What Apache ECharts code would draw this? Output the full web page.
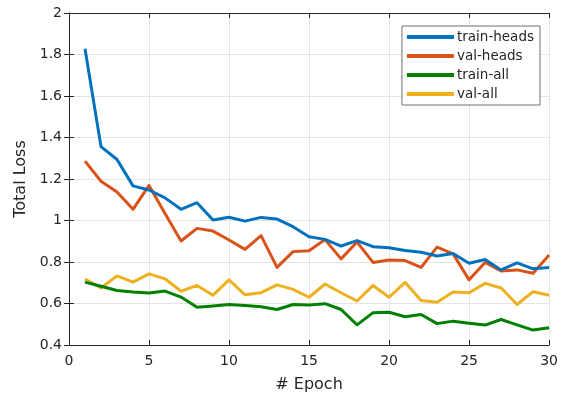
<!DOCTYPE html>
<html>
<head>
<meta charset="utf-8">
<script src="https://cdn.jsdelivr.net/npm/echarts@6/dist/echarts.min.js"></script>
<style>
  html, body { margin: 0; padding: 0; background: #fff; }
  #chart { width: 561px; height: 398px; }
</style>
</head>
<body>
<div id="chart"></div>
<script>
// Training curves: loss per epoch for the head-only and full-network runs
const epochs = [1,2,3,4,5,6,7,8,9,10,11,12,13,14,15,16,17,18,19,20,21,22,23,24,25,26,27,28,29,30];
const trainHeads = [1.828,1.356,1.294,1.167,1.147,1.109,1.054,1.086,1.002,1.016,0.997,1.015,1.007,0.970,0.922,0.909,0.877,0.903,0.874,0.869,0.855,0.847,0.829,0.841,0.794,0.812,0.762,0.796,0.767,0.774];
const valHeads   = [1.286,1.189,1.137,1.054,1.169,1.034,0.901,0.962,0.949,0.906,0.861,0.927,0.774,0.850,0.854,0.908,0.815,0.896,0.798,0.810,0.807,0.774,0.872,0.839,0.714,0.798,0.757,0.762,0.746,0.834];
const trainAll   = [0.703,0.683,0.663,0.655,0.651,0.660,0.631,0.582,0.588,0.595,0.590,0.584,0.571,0.595,0.593,0.599,0.571,0.497,0.556,0.558,0.536,0.547,0.503,0.515,0.505,0.496,0.523,0.497,0.472,0.483];
const valAll     = [0.718,0.675,0.733,0.703,0.743,0.719,0.659,0.687,0.640,0.714,0.642,0.652,0.690,0.668,0.630,0.694,0.652,0.612,0.687,0.630,0.702,0.614,0.606,0.655,0.652,0.697,0.675,0.595,0.657,0.640];

const seriesNames = ['train-heads', 'val-heads', 'train-all', 'val-all'];
const seriesData = [trainHeads, valHeads, trainAll, valAll];
const colors = ['#0072BD', '#D95319', '#008000', '#EDB120'];

const FONT = 'DejaVu Sans';
const INK = '#262626';

const pairs = arr => arr.map((v, i) => [epochs[i], v]);

const axisLine = { show: true, lineStyle: { color: INK, width: 1 } };
const tick = { show: true, inside: true, length: 5, lineStyle: { color: INK } };
const grid = { show: true, lineStyle: { color: '#e3e3e3', width: 1 } };

const chart = echarts.init(document.getElementById('chart'), null, { renderer: 'canvas' });
chart.setOption({
  animation: false,
  backgroundColor: '#fff',
  textStyle: { fontFamily: FONT },
  grid: { left: 69, right: 9, top: 13, bottom: 50, containLabel: false },
  legend: {
    data: seriesNames,
    orient: 'vertical',
    right: 21,
    top: 26,
    itemWidth: 47,
    itemHeight: 4,
    itemGap: 5,
    icon: 'rect',
    backgroundColor: '#fff',
    borderColor: '#6e6e6e',
    borderWidth: 1,
    borderRadius: 0,
    padding: [4, 6, 4, 5],
    textStyle: { fontFamily: FONT, fontSize: 13.5, color: INK, padding: [0, 0, 0, -2] }
  },
  xAxis: [
    {
      type: 'value', min: 0, max: 30, interval: 5,
      name: '# Epoch', nameLocation: 'middle', nameGap: 32,
      nameTextStyle: { fontFamily: FONT, fontSize: 16, color: INK },
      axisLine, axisTick: tick, splitLine: grid,
      axisLabel: { fontFamily: FONT, fontSize: 14, color: INK, margin: 9 }
    },
    {
      type: 'value', min: 0, max: 30, interval: 5, position: 'top',
      axisLine, axisTick: tick, splitLine: { show: false }, axisLabel: { show: false }
    }
  ],
  yAxis: [
    {
      type: 'value', min: 0.4, max: 2, interval: 0.2,
      name: 'Total Loss', nameLocation: 'middle', nameGap: 40,
      nameTextStyle: { fontFamily: FONT, fontSize: 16, color: INK },
      axisLine, axisTick: tick, splitLine: grid,
      axisLabel: {
        fontFamily: FONT, fontSize: 14, color: INK, margin: 7,
        formatter: v => String(parseFloat(v.toFixed(1)))
      }
    },
    {
      type: 'value', min: 0.4, max: 2, interval: 0.2, position: 'right',
      axisLine, axisTick: tick, splitLine: { show: false }, axisLabel: { show: false }
    }
  ],
  series: seriesData.map((arr, i) => ({
    name: seriesNames[i],
    type: 'line',
    data: pairs(arr),
    showSymbol: false,
    symbol: 'none',
    lineStyle: { color: colors[i], width: 3, join: 'round' },
    itemStyle: { color: colors[i] },
    z: 5 - i
  }))
});
</script>
</body>
</html>
